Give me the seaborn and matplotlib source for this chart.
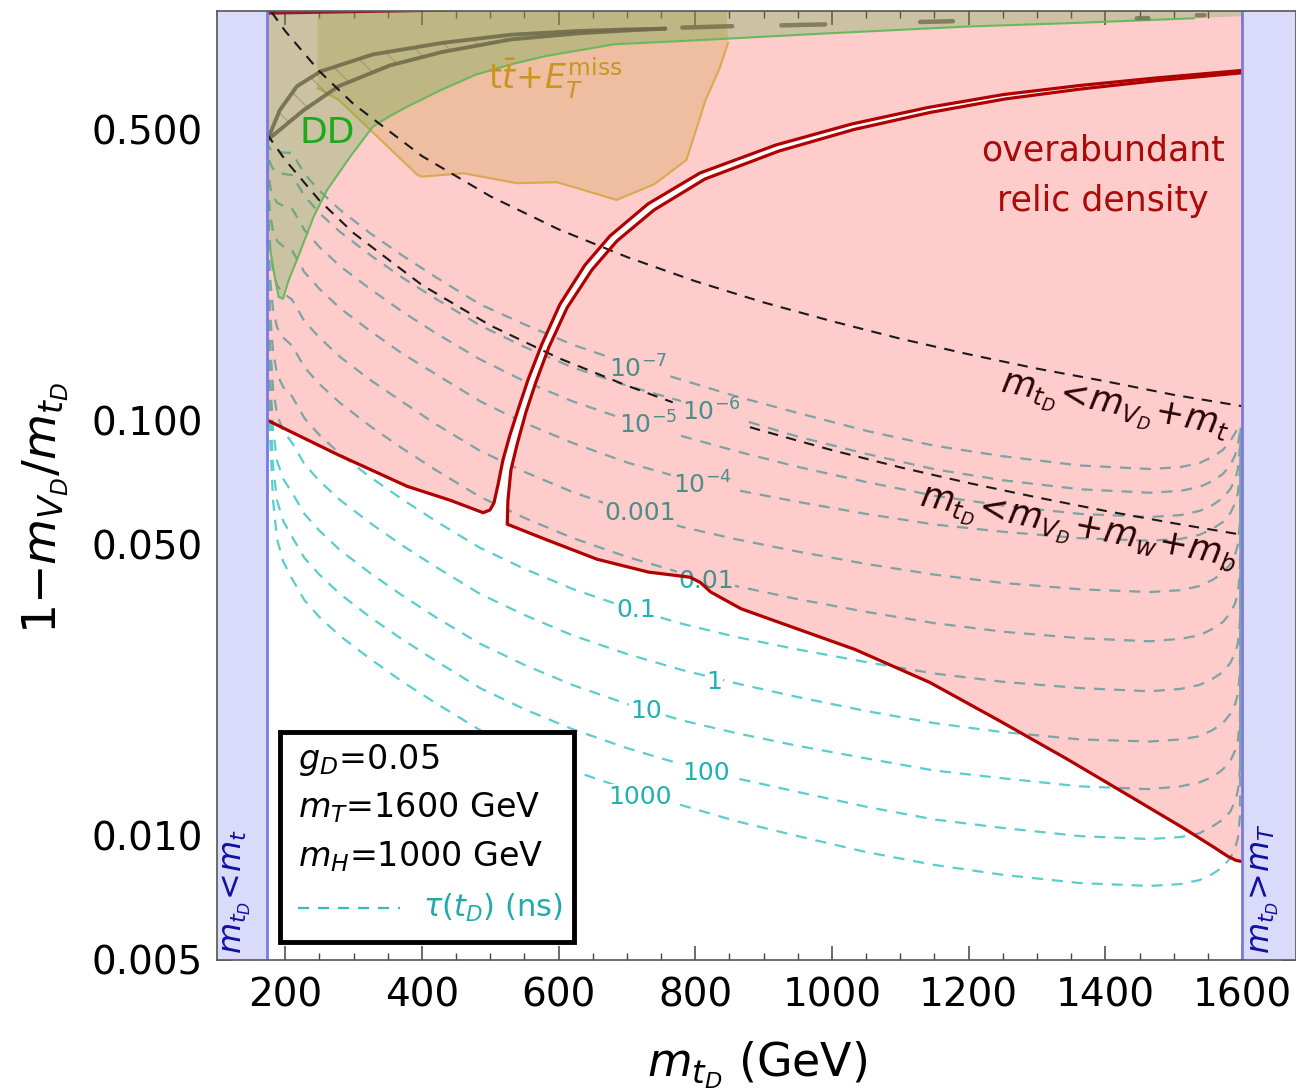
import matplotlib
matplotlib.use("Agg")
import matplotlib.pyplot as plt
from matplotlib.patches import Rectangle
import seaborn as sns

sns.set_theme(style="ticks")
plt.rcParams['font.family'] = ['DejaVu Sans']
plt.rcParams['mathtext.fontset'] = 'dejavusans'
plt.rcParams['text.color'] = 'black'

# ---------------- data ----------------
# lifetime contours tau(t_D) [ns] on a common m_tD grid [GeV]
tau_x = [173, 175, 178, 182, 188, 197, 210, 228, 250, 280, 324, 370, 420, 485, 550, 620,
         700, 780, 860, 950, 1050, 1150, 1250, 1363, 1465, 1510, 1538, 1557, 1572, 1583,
         1590, 1594, 1597, 1598.5]
tau_1e7 = [0.473, 0.458, 0.450, 0.446, 0.443, 0.441, 0.440, 0.392, 0.357, 0.321, 0.282, 0.250,
           0.221, 0.190, 0.170, 0.152, 0.137, 0.125, 0.114, 0.104, 0.0942, 0.0867, 0.0818,
           0.0777, 0.0762, 0.0770, 0.0788, 0.0815, 0.0847, 0.0890, 0.0931, 0.0957, 0.0973, 0.0978]
tau_1e6 = [0.473, 0.433, 0.415, 0.403, 0.396, 0.392, 0.389, 0.347, 0.315, 0.284, 0.250, 0.221,
           0.196, 0.169, 0.150, 0.134, 0.121, 0.111, 0.101, 0.0912, 0.0829, 0.0761, 0.0716,
           0.0681, 0.0668, 0.0675, 0.0690, 0.0713, 0.0741, 0.0779, 0.0824, 0.0871, 0.0936, 0.0967]
tau_1e5 = [0.473, 0.398, 0.364, 0.346, 0.334, 0.328, 0.323, 0.287, 0.261, 0.235, 0.207, 0.183,
           0.162, 0.140, 0.124, 0.111, 0.100, 0.0915, 0.0841, 0.0771, 0.0709, 0.0657, 0.0622,
           0.0594, 0.0584, 0.0590, 0.0604, 0.0624, 0.0649, 0.0682, 0.0721, 0.0762, 0.0862, 0.0957]
tau_1e4 = [0.473, 0.358, 0.311, 0.286, 0.270, 0.262, 0.256, 0.227, 0.207, 0.186, 0.164, 0.145,
           0.129, 0.111, 0.0984, 0.0881, 0.0790, 0.0725, 0.0678, 0.0635, 0.0594, 0.0560, 0.0538,
           0.0519, 0.0512, 0.0517, 0.0529, 0.0547, 0.0568, 0.0597, 0.0631, 0.0668, 0.0754, 0.0957]
tau_1e3 = [0.473, 0.317, 0.259, 0.229, 0.211, 0.202, 0.195, 0.173, 0.158, 0.142, 0.125, 0.111,
           0.0978, 0.0843, 0.0750, 0.0671, 0.0604, 0.0553, 0.0516, 0.0482, 0.0450, 0.0424,
           0.0405, 0.0391, 0.0385, 0.0389, 0.0398, 0.0412, 0.0428, 0.0450, 0.0475, 0.0502,
           0.0568, 0.0957]
tau_1e2 = [0.473, 0.283, 0.218, 0.185, 0.167, 0.158, 0.151, 0.134, 0.122, 0.110, 0.0967, 0.0857,
           0.0758, 0.0653, 0.0581, 0.0520, 0.0468, 0.0428, 0.0398, 0.0370, 0.0345, 0.0324,
           0.0309, 0.0298, 0.0293, 0.0297, 0.0303, 0.0314, 0.0326, 0.0343, 0.0362, 0.0383,
           0.0433, 0.0957]
tau_1e1 = [0.473, 0.249, 0.179, 0.147, 0.129, 0.120, 0.114, 0.101, 0.0920, 0.0829, 0.0729,
           0.0646, 0.0571, 0.0492, 0.0438, 0.0392, 0.0353, 0.0323, 0.0300, 0.0280, 0.0261,
           0.0245, 0.0234, 0.0226, 0.0222, 0.0225, 0.0230, 0.0238, 0.0247, 0.0260, 0.0275,
           0.0290, 0.0328, 0.0957]
tau_1 = [0.473, 0.223, 0.151, 0.119, 0.103, 0.0941, 0.0881, 0.0783, 0.0713, 0.0642, 0.0565,
         0.0500, 0.0443, 0.0381, 0.0339, 0.0303, 0.0273, 0.0250, 0.0232, 0.0215, 0.0199,
         0.0186, 0.0177, 0.0170, 0.0168, 0.0170, 0.0173, 0.0179, 0.0186, 0.0196, 0.0207,
         0.0219, 0.0247, 0.0957]
tau_10 = [0.473, 0.196, 0.125, 0.0949, 0.0796, 0.0721, 0.0668, 0.0594, 0.0541, 0.0486, 0.0428,
          0.0379, 0.0335, 0.0289, 0.0257, 0.0230, 0.0207, 0.0189, 0.0176, 0.0164, 0.0153,
          0.0143, 0.0137, 0.0131, 0.0129, 0.0131, 0.0134, 0.0138, 0.0144, 0.0151, 0.0160,
          0.0169, 0.0190, 0.0957]
tau_100 = [0.473, 0.176, 0.106, 0.0777, 0.0639, 0.0571, 0.0523, 0.0465, 0.0424, 0.0381, 0.0335,
           0.0297, 0.0263, 0.0226, 0.0201, 0.0180, 0.0162, 0.0148, 0.0137, 0.0127, 0.0117,
           0.0109, 0.0104, 0.00994, 0.00978, 0.00989, 0.0101, 0.0105, 0.0109, 0.0114, 0.0121,
           0.0128, 0.0144, 0.0957]
tau_1000 = [0.473, 0.158, 0.0903, 0.0642, 0.0516, 0.0456, 0.0414, 0.0368, 0.0335, 0.0302,
            0.0266, 0.0235, 0.0208, 0.0179, 0.0159, 0.0143, 0.0129, 0.0118, 0.0108, 0.00994,
            0.00910, 0.00847, 0.00802, 0.00766, 0.00754, 0.00762, 0.00779, 0.00806, 0.00838,
            0.00881, 0.00931, 0.00984, 0.0111, 0.0957]

tau_names = [r"$10^{-7}$", r"$10^{-6}$", r"$10^{-5}$", r"$10^{-4}$", "0.001", "0.01",
             "0.1", "1", "10", "100", "1000"]
tau_lab_x = [716, 824, 731, 810, 719, 816, 713, 827, 728, 816, 719]
tau_lab_y = [0.133, 0.1045, 0.0973, 0.0697, 0.0597, 0.0409, 0.0348, 0.0234, 0.0199, 0.0141, 0.01235]

# relic density boundary (lower edge of the overabundant region)
relic_left_x = [173, 277.6, 378.5, 441.0, 489.5]
relic_left_y = [0.1, 0.0824, 0.0692, 0.0641, 0.0598]
relic_right_x = [524.8, 580.4, 656.0, 731.7, 772.1, 792.2, 807.4, 822.6, 866.8, 912.1,
                 1033.6, 1143.3, 1245.8, 1343.8, 1440.4, 1513.6, 1560.4, 1579.4, 1591.1, 1600]
relic_right_y = [0.0561, 0.0516, 0.0462, 0.0430, 0.0422, 0.0418, 0.0406, 0.0385, 0.0351, 0.0330,
                 0.0280, 0.02331, 0.01882, 0.01525, 0.01228, 0.01041, 0.00931, 0.00888,
                 0.00869, 0.00863]
# resonance channel (white strip)
chan_left_x = [499.5, 505.3, 511.2, 518.5, 528.7, 540.5, 555.1, 575.6, 601.9, 638.5, 675.1,
               730.7, 806.8, 918.0, 1029.2, 1140.4, 1251.6, 1362.8, 1474.0, 1600]
chan_left_y = [0.0607, 0.0631, 0.0697, 0.0801, 0.0920, 0.1057, 0.1249, 0.1525, 0.190, 0.2362,
               0.2776, 0.3316, 0.3937, 0.4599, 0.5168, 0.5662, 0.6086, 0.6398, 0.6670, 0.6955]
chan_right_x = [524.8, 525.8, 530.2, 539.0, 552.2, 566.8, 585.8, 612.2, 648.7, 685.3, 739.5,
                814.1, 922.4, 1032.2, 1143.3, 1253.1, 1364.3, 1475.5, 1600]
chan_right_y = [0.0561, 0.0641, 0.0758, 0.0871, 0.1045, 0.1235, 0.1499, 0.1862, 0.230, 0.2700,
                0.3206, 0.3808, 0.4447, 0.5012, 0.5508, 0.5936, 0.6275, 0.6574, 0.6865]

# direct detection excluded region (green)
dd_x = [173, 173, 178, 185.3, 190.3, 196.6, 205, 217, 241.5, 261, 295, 328.1, 353.2, 378.5,
        428.9, 479.3, 529.9, 580.4, 681.2, 806.8, 973.6, 1196, 1363, 1530, 1600, 1600]
dd_y = [0.967, 0.352, 0.257, 0.2174, 0.198, 0.196, 0.2174, 0.2429, 0.309, 0.358, 0.431, 0.509,
        0.540, 0.569, 0.625, 0.680, 0.719, 0.753, 0.804, 0.823, 0.851, 0.887, 0.906, 0.929,
        0.940, 0.967]

# ttbar + MET excluded region (orange)
tt_x = [247, 247, 278, 393, 400, 461, 539, 598, 685, 740, 787, 815, 835, 848, 846]
tt_y = [0.967, 0.631, 0.591, 0.390, 0.386, 0.393, 0.372, 0.374, 0.339, 0.37, 0.423, 0.59,
        0.70, 0.811, 0.967]

# gray bounds near the top
gray_up_x = [174, 192, 217, 252, 328, 429, 530, 631, 700, 756]
gray_up_y = [0.473, 0.558, 0.637, 0.692, 0.760, 0.810, 0.848, 0.866, 0.873, 0.877]
gray_lo_x = [174, 227, 278, 353, 429, 530, 631, 700, 756]
gray_lo_y = [0.473, 0.558, 0.637, 0.715, 0.770, 0.826, 0.855, 0.868, 0.877]
gray_seg_x = [[781, 854], [926, 990], [1129, 1177], [1446, 1463], [1534, 1545]]
gray_seg_y = [[0.882, 0.889], [0.893, 0.898], [0.910, 0.914], [0.929, 0.930], [0.944, 0.945]]

# thin dark red strip at the very top
top_x = [173, 300, 452]
top_y = [0.950, 0.958, 0.967]

# kinematic thresholds
thr_t_x = [180, 200, 250, 300, 400, 500, 600, 700, 800, 900, 1000, 1100, 1200, 1300, 1400, 1500, 1600]
thr_t_y = [0.961, 0.865, 0.692, 0.577, 0.4325, 0.346, 0.288, 0.247, 0.216, 0.192, 0.173,
           0.157, 0.144, 0.133, 0.124, 0.115, 0.108]
# W+b threshold, interrupted where the 1e-5 / 1e-6 labels sit
thr_wb_x1 = [173, 200, 250, 300, 400, 500, 600, 700, 767]
thr_wb_y1 = [0.489, 0.423, 0.338, 0.282, 0.2115, 0.169, 0.141, 0.121, 0.1103]
thr_wb_x2 = [880, 900, 1000, 1100, 1200, 1300, 1400, 1500, 1600]
thr_wb_y2 = [0.0961, 0.094, 0.0846, 0.0769, 0.0705, 0.0651, 0.0604, 0.0564, 0.0529]

x_lo, x_hi = 100, 1679
y_lo, y_hi = 0.005, 0.967
m_top, m_T = 173, 1600

# ---------------- figure ----------------
fig = plt.figure(figsize=(12.96, 10.92), dpi=100)
ax = fig.add_axes([0.1674, 0.1209, 0.8326, 0.8690])
ax.set_yscale("log")
ax.set_xlim(x_lo, x_hi)
ax.set_ylim(y_lo, y_hi)

teal = "#5ccdcd"
tau_curves = [tau_1e7, tau_1e6, tau_1e5, tau_1e4, tau_1e3, tau_1e2, tau_1e1,
              tau_1, tau_10, tau_100, tau_1000]
for yy in tau_curves:
    sns.lineplot(x=tau_x, y=yy, ax=ax, color=teal, lw=1.6, sort=False,
                 estimator=None, linestyle=(0, (5, 4)), zorder=1)
for name, lx, ly in zip(tau_names, tau_lab_x, tau_lab_y):
    ax.text(lx, ly, name, color="#1fb2b0", fontsize=18, ha="center", va="center", zorder=1.2,
            bbox=dict(boxstyle="square,pad=0.05", fc="white", ec="none"))

# overabundant region
low_x = relic_left_x + relic_right_x
low_y = relic_left_y + relic_right_y
ax.fill_between(low_x, low_y, y_hi, color="red", alpha=0.2, lw=0, zorder=2)
cx = relic_left_x[-1:] + chan_left_x + chan_right_x[::-1]
cy = relic_left_y[-1:] + chan_left_y + chan_right_y[::-1]
ax.fill(cx, cy, color="white", lw=0, zorder=2.1)

# excluded regions
ax.fill(tt_x, tt_y, color="#cd9d39", alpha=0.3, lw=0, zorder=2.4)
ax.plot(tt_x[1:-1], tt_y[1:-1], color="#d8a94f", lw=1.5, zorder=2.45)
ax.fill(dd_x, dd_y, color="#52ab43", alpha=0.3, lw=0, zorder=2.5)
ax.plot(dd_x[2:-2], dd_y[2:-2], color="#6ab85e", lw=1.5, zorder=2.55)

# gray bounds with hatching
ax.fill(gray_up_x + gray_lo_x[::-1], gray_up_y + gray_lo_y[::-1], facecolor="none",
        edgecolor="#8a8660", hatch="\\", lw=0, alpha=0.5, zorder=2.8)
ax.plot(gray_up_x, gray_up_y, color="#716d4c", lw=2.8, alpha=0.9, zorder=3)
ax.plot(gray_lo_x, gray_lo_y, color="#716d4c", lw=2.8, alpha=0.9, zorder=3)
for sx, sy in zip(gray_seg_x, gray_seg_y):
    ax.plot(sx, sy, color="#716d4c", lw=3.2, alpha=0.8, solid_capstyle="round", zorder=3)
ax.fill_between(top_x, top_y, y_hi, color="#8e1a2a", lw=0, zorder=3)

# thresholds
for tx, ty in [(thr_t_x, thr_t_y), (thr_wb_x1, thr_wb_y1), (thr_wb_x2, thr_wb_y2)]:
    sns.lineplot(x=tx, y=ty, ax=ax, color="#1a1a1a", lw=1.5, sort=False,
                 estimator=None, linestyle=(0, (5, 4)), zorder=3.5)

# relic boundary lines
red = "#b00000"
ax.plot(relic_left_x + chan_left_x, relic_left_y + chan_left_y, color=red, lw=2.3, zorder=4)
ax.plot(chan_right_x[::-1] + relic_right_x[1:], chan_right_y[::-1] + relic_right_y[1:],
        color=red, lw=2.3, zorder=4)

# kinematically forbidden bands
band = "#dadafa"
ax.axvspan(x_lo, m_top, color=band, lw=0, zorder=5)
ax.axvspan(m_T, x_hi, color=band, lw=0, zorder=5)
ax.axvline(m_top, color="#7a7ae0", lw=2, zorder=5.1)
ax.axvline(m_T, color="#7a7ae0", lw=2, zorder=5.1)
ax.text(0.0185, 0.006, r"$m_{t_D}\!<\!m_t$", transform=ax.transAxes, rotation=90,
        color="#1010a0", fontsize=23, ha="center", va="bottom", zorder=6)
ax.text(0.9713, 0.006, r"$m_{t_D}\!>\!m_T$", transform=ax.transAxes, rotation=90,
        color="#1010a0", fontsize=23, ha="center", va="bottom", zorder=6)

# region labels
ax.text(261, 0.491, "DD", color="#1aaa1a", fontsize=26, ha="center", va="center", zorder=6)
ax.text(594.6, 0.667, r"$\mathrm{t}\bar{t}\!+\!E_T^{\mathrm{miss}}$", color="#c8961e",
        fontsize=24, ha="center", va="center", zorder=6)
ax.text(1396, 0.447, "overabundant", color="#aa0a0a", fontsize=25, ha="center", va="center", zorder=6)
ax.text(1396, 0.337, "relic density", color="#aa0a0a", fontsize=25, ha="center", va="center", zorder=6)
ax.text(1414, 0.1069, r"$m_{t_D}\!<\!m_{V_D}\!+\!m_t$", color="#2a0505", fontsize=25,
        rotation=-11, rotation_mode="anchor", ha="center", va="center", zorder=6)
ax.text(1360, 0.0540, r"$m_{t_D}\!<\!m_{V_D}\!+\!m_w\!+\!m_b$", color="#2a0505", fontsize=25,
        rotation=-11, rotation_mode="anchor", ha="center", va="center", zorder=6)

# parameter box
ax.add_patch(Rectangle((0.0584, 0.019), 0.2725, 0.2213, transform=ax.transAxes,
                       facecolor="white", edgecolor="black", lw=3.5, zorder=7))
ax.text(0.0751, 0.2107, r"$g_D$=0.05", transform=ax.transAxes, fontsize=24, va="center", zorder=8)
ax.text(0.0751, 0.1602, r"$m_T$=1600 GeV", transform=ax.transAxes, fontsize=24, va="center", zorder=8)
ax.text(0.0751, 0.1085, r"$m_H$=1000 GeV", transform=ax.transAxes, fontsize=24, va="center", zorder=8)
ax.plot([0.0751, 0.1696], [0.0548, 0.0548], transform=ax.transAxes, color="#33bcbc",
        lw=1.6, linestyle=(0, (5, 4)), zorder=8)
ax.text(0.1905, 0.0548, r"$\tau(t_D)$ (ns)", transform=ax.transAxes, color="#22aaaa",
        fontsize=22, va="center", zorder=8)

# axes styling
ax.set_yticks([0.005, 0.01, 0.05, 0.1, 0.5])
ax.set_yticklabels(["0.005", "0.010", "0.050", "0.100", "0.500"])
ax.set_yticks([0.006, 0.007, 0.008, 0.009, 0.02, 0.03, 0.04, 0.06, 0.07, 0.08, 0.09,
               0.2, 0.3, 0.4, 0.6, 0.7, 0.8, 0.9], minor=True)
ax.set_xticks(list(range(200, 1601, 200)))
ax.set_xticks(list(range(100, 1680, 50)), minor=True)
ax.tick_params(which="both", direction="in", top=True, right=True, color="#444444",
               labelcolor="black", labelsize=28, zorder=9)
ax.tick_params(which="major", length=10, width=1.1)
ax.tick_params(which="minor", length=5, width=1.0)
ax.tick_params(axis="y", which="major", pad=10)
ax.tick_params(axis="x", which="major", pad=12)
for sp in ax.spines.values():
    sp.set_color("#555555")
    sp.set_linewidth(1.2)
    sp.set_zorder(9)

fig.text(0.584, 0.025, r"$m_{t_D}$ (GeV)", fontsize=33, ha="center", va="center")
fig.text(0.035, 0.535, r"1$-$$m_{V_D}$/$m_{t_D}$", fontsize=34, rotation=90, ha="center", va="center")

fig.savefig("out.png", dpi=100)
